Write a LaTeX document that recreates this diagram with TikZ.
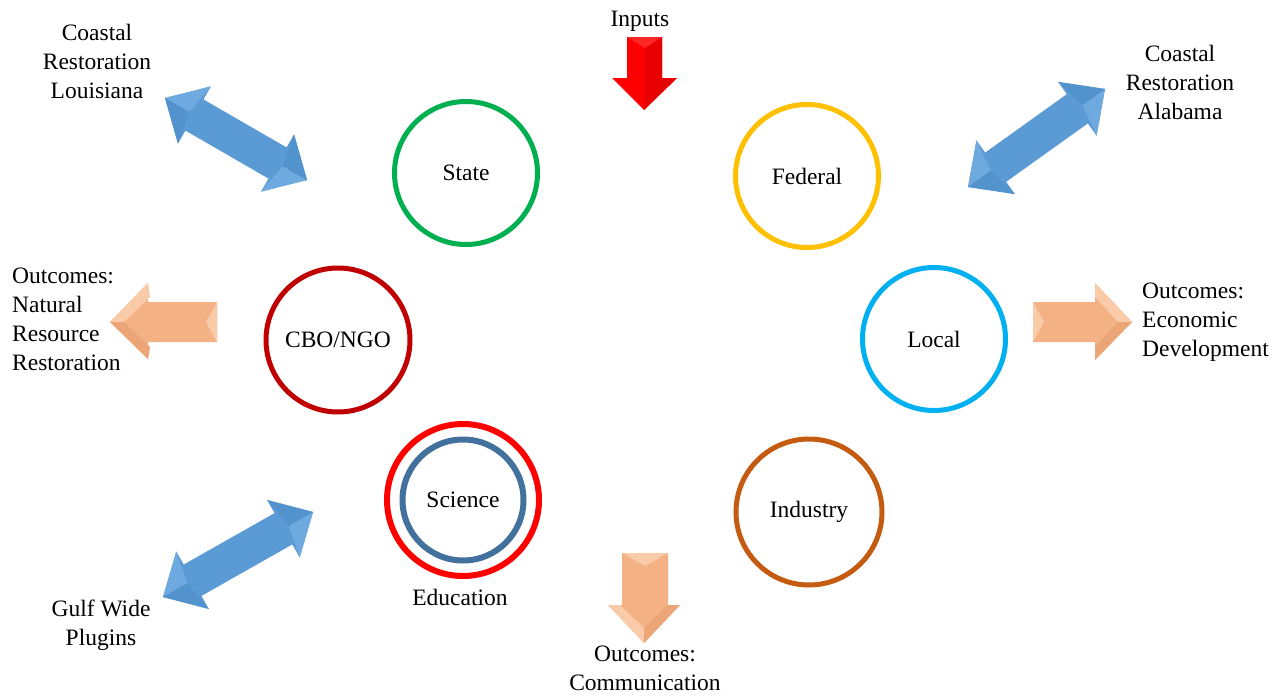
\documentclass[tikz,border=0pt]{standalone}
\usepackage{fontspec}
\setmainfont{Liberation Serif}
\usetikzlibrary{calc}
\definecolor{cgreen}{HTML}{00B050}
\definecolor{cgold}{HTML}{FFC000}
\definecolor{cdred}{HTML}{C00000}
\definecolor{ccyan}{HTML}{00B0F0}
\definecolor{cred}{HTML}{FF0000}
\definecolor{csteel}{HTML}{41719C}
\definecolor{crust}{HTML}{C55A11}
\definecolor{arrblue}{HTML}{5B9BD5}
\definecolor{arrbluel}{HTML}{6EA9DF}
\definecolor{arrblued}{HTML}{5292CD}
\definecolor{arrorange}{HTML}{F4B183}
\definecolor{arrorangel}{HTML}{F9CBA9}
\definecolor{arrorangeld}{HTML}{EBA576}
\definecolor{arrredd}{HTML}{E80000}
\newcommand\dblarr[2]{%
  \fill[arrblue] (#1) -- ($(#1)!34pt!(#2)!33pt!90:(#2)$) -- ($(#1)!34pt!(#2)!18pt!90:(#2)$)
    -- ($(#2)!34pt!(#1)!18pt!-90:(#1)$) -- ($(#2)!34pt!(#1)!33pt!-90:(#1)$) -- (#2)
    -- ($(#2)!34pt!(#1)!33pt!90:(#1)$) -- ($(#2)!34pt!(#1)!18pt!90:(#1)$)
    -- ($(#1)!34pt!(#2)!18pt!-90:(#2)$) -- ($(#1)!34pt!(#2)!33pt!-90:(#2)$) -- cycle;
  \fill[arrbluel] (#1) -- ($(#1)!34pt!(#2)!33pt!90:(#2)$) -- ($(#1)!28pt!(#2)$) -- cycle;
  \fill[arrblued] (#1) -- ($(#1)!34pt!(#2)!33pt!-90:(#2)$) -- ($(#1)!28pt!(#2)$) -- cycle;
  \fill[arrbluel] (#2) -- ($(#2)!34pt!(#1)!33pt!90:(#1)$) -- ($(#2)!28pt!(#1)$) -- cycle;
  \fill[arrblued] (#2) -- ($(#2)!34pt!(#1)!33pt!-90:(#1)$) -- ($(#2)!28pt!(#1)$) -- cycle;
}
\tikzset{
  ring/.style={circle, draw, line width=5pt, inner sep=0pt, minimum size=143pt,
    font=\fontsize{23.5}{29.6}\selectfont},
  lbl/.style={inner sep=0pt, font=\fontsize{23.5}{29}\selectfont},
}
\begin{document}
\begin{tikzpicture}[x=1pt,y=-1pt]
\useasboundingbox (0,0) rectangle (1286,696);
\fill[white] (0,0) rectangle (1286,696);

% circles
\node[ring, draw=cgreen] (state) at (466,173) {State};
\node[ring, draw=cgold] (federal) at (807,176) {Federal};
\node[ring, draw=cdred, minimum size=144pt] (cbo) at (338,340) {CBO/NGO};
\node[ring, draw=ccyan] (local) at (934,339) {Local};
\node[ring, draw=crust, minimum size=146pt] (industry) at (809,512) {Industry};
\node[ring, draw=cred, line width=6pt, minimum size=152pt] (edu) at (463,500) {};
\node[ring, draw=csteel, line width=6pt, minimum size=121pt] (science) at (463,500) {Science};
\node[lbl] (education) at (460,597) {Education};

% labels
\node[lbl] (inputs) at (640,21) {Inputs};
\node[lbl, align=center] (la) at (97,61) {Coastal\\Restoration\\Louisiana};
\node[lbl, align=center] (al) at (1180,82.5) {Coastal\\Restoration\\Alabama};
\node[lbl, align=left, anchor=west] (nat) at (12,319) {Outcomes:\\Natural\\Resource\\Restoration};
\node[lbl, align=left, anchor=west] (eco) at (1142,322) {Outcomes:\\Economic\\Development};
\node[lbl, align=center] (gulf) at (101,625) {Gulf Wide\\Plugins};
\node[lbl, align=center] (comm) at (645,668.5) {Outcomes:\\Communication};

% double arrows
\coordinate (la1) at (165,98);
\coordinate (la2) at (307,180);
\coordinate (al1) at (1105,89);
\coordinate (al2) at (968,187);
\coordinate (gw1) at (313,512);
\coordinate (gw2) at (163,597);
\dblarr{la1}{la2}
\dblarr{al1}{al2}
\dblarr{gw1}{gw2}

% red input arrow
\fill[cred] (627,37) -- (662,37) -- (662,78) -- (677,78) -- (644,110) -- (612,78) -- (627,78) -- cycle;
\fill[arrredd] (645,48) -- (662,37) -- (662,78) -- (677,78) -- (644,110) -- (645,80) -- cycle;
\fill[cred!85!white] (627,37) -- (662,37) -- (645,48) -- cycle;

% left orange arrow
\fill[arrorange] (110,322) -- (148,283) -- (148,302) -- (217,302) -- (217,342) -- (148,342) -- (148,359) -- cycle;
\fill[arrorangel] (110,322) -- (148,283) -- (150,297) -- (124,322) -- cycle;
\fill[arrorangeld] (110,322) -- (148,359) -- (150,347) -- (124,322) -- cycle;
\fill[arrorangel] (217,302) -- (217,342) -- (206,322) -- cycle;

% right orange arrow
\fill[arrorange] (1033,302) -- (1095,302) -- (1095,283) -- (1132,322) -- (1095,360) -- (1095,342) -- (1033,342) -- cycle;
\fill[arrorangel] (1132,322) -- (1095,283) -- (1095,297) -- (1118,322) -- cycle;
\fill[arrorangeld] (1132,322) -- (1095,360) -- (1095,347) -- (1118,322) -- cycle;
\fill[arrorangel] (1033,302) -- (1033,342) -- (1044,322) -- cycle;

% bottom orange arrow
\fill[arrorange] (622,553) -- (668,553) -- (668,605) -- (680,605) -- (644,643) -- (608,605) -- (622,605) -- cycle;
\fill[arrorangel] (622,553) -- (668,553) -- (645,566) -- cycle;
\fill[arrorangel] (608,605) -- (644,643) -- (644,628) -- (620,605) -- cycle;
\fill[arrorangeld] (680,605) -- (644,643) -- (644,628) -- (668,605) -- cycle;
\end{tikzpicture}
\end{document}
